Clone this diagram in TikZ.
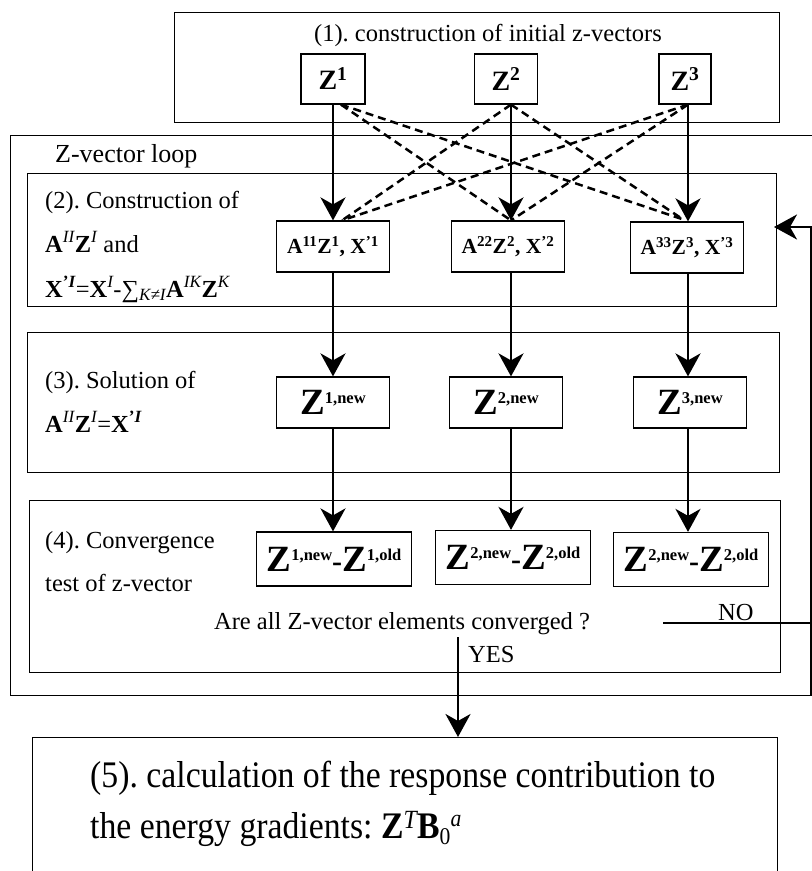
\documentclass[tikz,border=0pt]{standalone}
\usepackage{fontspec}
\setmainfont{Liberation Serif}
\newfontfamily\narrowfont[FakeStretch=0.9]{Liberation Serif}
\usetikzlibrary{arrows.meta,calc}
\newcommand\ZZ[1]{{\fontsize{37}{37}\selectfont\bfseries Z}\raisebox{11pt}{\fontsize{16.5}{16.5}\selectfont\bfseries #1}}
\newcommand\ZZd[2]{\ZZ{#1}{\fontsize{30}{30}\selectfont\bfseries -}\ZZ{#2}}
\frenchspacing
\begin{document}
\begin{tikzpicture}[x=1pt,y=-1pt,
  font=\fontsize{24.5}{29}\selectfont,
  frame/.style={draw, line width=1.2pt, inner sep=0pt, anchor=north west},
  vbox/.style={draw, line width=1.2pt, inner sep=0pt, minimum height=51pt},
  arr/.style={line width=2.5pt, -{Stealth[length=23pt,width=25pt,inset=7pt]}},
  dsh/.style={line width=2.5pt, dash pattern=on 8pt off 5pt},
  lbl/.style={anchor=base west, inner sep=0pt}]
\useasboundingbox (0,0) rectangle (812,871);
\clip (0,0) rectangle (812,871);
\fill[white] (0,0) rectangle (812,871);
% frames
\node[frame, minimum width=605pt, minimum height=110pt] (f1) at (174,12) {};
\node[frame, minimum width=804pt, minimum height=560pt] (floop) at (10,135) {};
\node[frame, minimum width=749pt, minimum height=133pt] (f2) at (27,173) {};
\node[frame, minimum width=752pt, minimum height=140pt] (f3) at (27,332) {};
\node[frame, minimum width=751pt, minimum height=172pt] (f4) at (29,500) {};
\node[frame, minimum width=745pt, minimum height=170pt] (f5) at (32,737) {};
% texts
\node[anchor=base, inner sep=0pt] (t1) at (488,41) {(1). construction of initial z-vectors};
\node[lbl, font=\fontsize{26}{30}\selectfont] (tloop) at (55,162) {Z-vector loop};
\node[lbl] (t2a) at (45,208) {(2). Construction of};
\node[lbl] (t2b) at (45,252) {{\bfseries A}\textsuperscript{\itshape II}{\bfseries Z}\textsuperscript{\itshape I} and};
\node[lbl] (t2c) at (45,297) {{\bfseries X}\textsuperscript{\bfseries ’\itshape I}={\bfseries X}\textsuperscript{\itshape I}-∑\textsubscript{\itshape K≠I}{\bfseries A}\textsuperscript{\itshape IK}{\bfseries Z}\textsuperscript{\itshape K}};
\node[lbl] (t3a) at (45,388) {(3). Solution of};
\node[lbl] (t3b) at (45,432) {{\bfseries A}\textsuperscript{\itshape II}{\bfseries Z}\textsuperscript{\itshape I}={\bfseries X}\textsuperscript{\bfseries ’\itshape I}};
\node[lbl] (t4a) at (45,548) {(4). Convergence};
\node[lbl] (t4b) at (45,591) {test of z-vector};
\node[anchor=base, inner sep=0pt] (q) at (402,629) {Are all Z-vector elements converged ?};
\node[lbl] (yes) at (468,662) {YES};
\node[lbl] (no) at (718,620) {NO};
\node[lbl, font=\fontsize{37.5}{44}\narrowfont] (t5a) at (90,787) {(5). calculation of the response contribution to};
\node[lbl, font=\fontsize{37.5}{44}\narrowfont] (t5b) at (90,838) {the energy gradients: {\bfseries Z}\textsuperscript{\itshape T}{\bfseries B}\raisebox{-6pt}{\fontsize{24}{24}\selectfont 0}\raisebox{12pt}{\fontsize{24}{24}\selectfont\itshape a}};
% Z boxes
\node[vbox, minimum width=64pt, minimum height=50pt, font=\fontsize{28}{30}\selectfont\bfseries] (z1) at (333,79) {Z\textsuperscript{1}};
\node[vbox, minimum width=63pt, minimum height=50pt, font=\fontsize{28}{30}\selectfont\bfseries] (z2) at (506,79) {Z\textsuperscript{2}};
\node[vbox, minimum width=52pt, minimum height=50pt, font=\fontsize{28}{30}\selectfont\bfseries] (z3) at (685,79) {Z\textsuperscript{3}};
% A boxes
\node[vbox, minimum width=113pt, font=\fontsize{21.5}{24}\selectfont\bfseries] (a1) at (333,246.5) {A\textsuperscript{11}Z\textsuperscript{1}, X\textsuperscript{’1}};
\node[vbox, minimum width=113pt, font=\fontsize{21.5}{24}\selectfont\bfseries] (a2) at (508,246.5) {A\textsuperscript{22}Z\textsuperscript{2}, X\textsuperscript{’2}};
\node[vbox, minimum width=113pt, font=\fontsize{21.5}{24}\selectfont\bfseries] (a3) at (687,247.5) {A\textsuperscript{33}Z\textsuperscript{3}, X\textsuperscript{’3}};
% new boxes
\node[vbox, minimum width=113pt] (n1) at (333,402.5) {\ZZ{1,new}};
\node[vbox, minimum width=113pt] (n2) at (506,402.5) {\ZZ{2,new}};
\node[vbox, minimum width=113pt] (n3) at (690,402.5) {\ZZ{3,new}};
% diff boxes
\node[vbox, minimum width=155pt, minimum height=54pt] (d1) at (334,559) {\ZZd{1,new}{1,old}};
\node[vbox, minimum width=155pt, minimum height=54pt] (d2) at (513,557.5) {\ZZd{2,new}{2,old}};
\node[vbox, minimum width=155pt, minimum height=54pt] (d3) at (691,559.5) {\ZZd{2,new}{2,old}};
% column coordinates
\coordinate (c1) at (333,0);
\coordinate (c2) at (511,0);
\coordinate (c3) at (688,0);
% solid arrows
\draw[arr] (z1.south -| c1) -- (a1.north -| c1);
\draw[arr] (z2.south -| c2) -- (a2.north -| c2);
\draw[arr] (z3.south -| c3) -- (a3.north -| c3);
\draw[arr] (a1.south -| c1) -- (n1.north -| c1);
\draw[arr] (a2.south -| c2) -- (n2.north -| c2);
\draw[arr] (a3.south -| c3) -- (n3.north -| c3);
\draw[arr] (n1.south -| c1) -- (d1.north -| c1);
\draw[arr] (n2.south -| c2) -- (d2.north -| c2);
\draw[arr] (n3.south -| c3) -- (d3.north -| c3);
% dashed couplings
\coordinate (s1) at ($(z1.south -| c1)+(8,0)$);
\coordinate (s2) at (z2.south -| c2);
\coordinate (s3) at (z3.south -| c3);
\coordinate (e1) at ($(a1.north -| c1)+(9,0)$);
\coordinate (e2) at (a2.north -| c2);
\coordinate (e3) at ($(a3.north -| c3)+(-5,-2)$);
\draw[dsh] (s1) -- (e2);
\draw[dsh] (s1) -- (e3);
\draw[dsh] (s2) -- (e1);
\draw[dsh] (s2) -- (e3);
\draw[dsh] (s3) -- (e1);
\draw[dsh] (s3) -- (e2);
% loop return
\coordinate (noS) at (663,623);
\coordinate (ret) at (811,623);
\coordinate (retin) at (774,227);
\draw[arr] (noS) -- (ret) |- (retin);
\draw[line width=1.2pt] (ret) -- (ret |- floop.south);
% yes
\coordinate (yesS) at (458,637);
\draw[arr] (yesS) -- (yesS |- f5.north);
\end{tikzpicture}
\end{document}
